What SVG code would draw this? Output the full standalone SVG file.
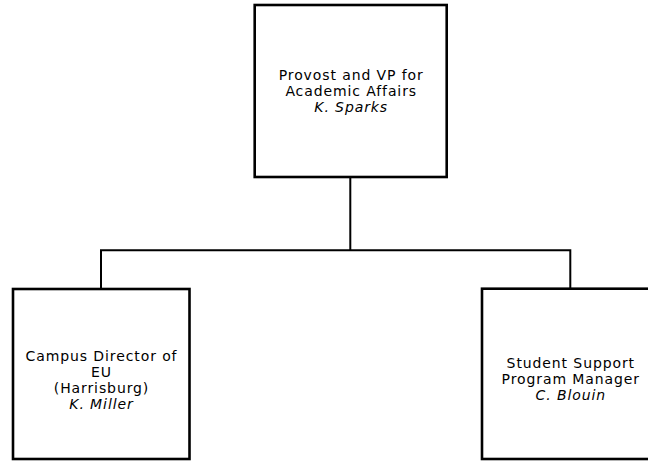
<svg xmlns="http://www.w3.org/2000/svg" width="648" height="461" viewBox="0 0 648 461">
<style>
.box{fill:#fff;stroke:#000;stroke-width:2.6}
.conn{fill:none;stroke:#000;stroke-width:2}
text{font-family:"DejaVu Sans",Verdana,sans-serif;font-size:14px;letter-spacing:0.9px;fill:#000;text-anchor:middle}
.it{font-style:italic}
</style>
<rect width="648" height="461" fill="#fff"/>
<g id="connectors">
<path class="conn" d="M350.3 177 V250.3 M101 289 V250.3 H570.3 V289"/>
</g>
<g id="provost">
<rect class="box" x="254.7" y="5" width="192" height="172"/>
<text x="351.2" y="80">Provost and VP for</text>
<text x="351.2" y="96">Academic Affairs</text>
<text x="351.2" y="112" class="it">K. Sparks</text>
</g>
<g id="campus-director">
<rect class="box" x="13" y="289" width="176.5" height="170"/>
<text x="101.5" y="361">Campus Director of</text>
<text x="101.5" y="377">EU</text>
<text x="101.5" y="393">(Harrisburg)</text>
<text x="101.5" y="409" class="it">K. Miller</text>
</g>
<g id="student-support">
<rect class="box" x="482" y="288.7" width="176.5" height="170.3"/>
<text x="570.8" y="368">Student Support</text>
<text x="570.8" y="384">Program Manager</text>
<text x="570.8" y="400" class="it">C. Blouin</text>
</g>
</svg>
